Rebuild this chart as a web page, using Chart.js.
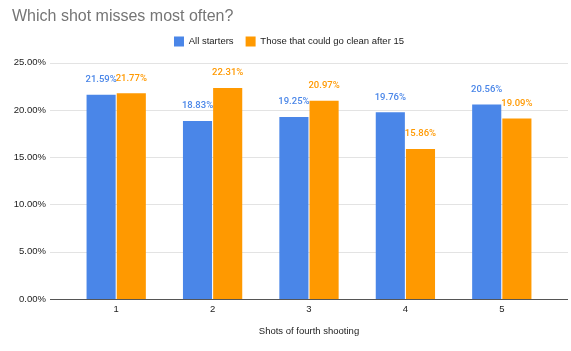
<!DOCTYPE html>
<html>
<head>
<meta charset="utf-8">
<script src="https://cdn.jsdelivr.net/npm/chart.js@4"></script>
<style>
  body { margin: 0; background: #fff; }
  #wrap { width: 571px; height: 351px; }
</style>
</head>
<body>
<div id="wrap"><canvas id="canvas"></canvas></div>
<script>
const shots = ["1", "2", "3", "4", "5"];
const allStarters = [21.59, 18.83, 19.25, 19.76, 20.56];
const cleanAfter15 = [21.77, 22.31, 20.97, 15.86, 19.09];
const yMax = 25;
const yStep = 5;

const blue = "#4a86e8";
const orange = "#ff9900";

// horizontal grid lines reach a bit past the plot area, like the sheets chart
const gridLines = {
  id: "gridLines",
  beforeDatasetsDraw(chart) {
    const { ctx, chartArea, scales } = chart;
    ctx.save();
    ctx.lineWidth = 1;
    scales.y.ticks.forEach(t => {
      if (t.value === 0) return;
      const y = Math.round(scales.y.getPixelForValue(t.value)) + 0.5;
      ctx.strokeStyle = "#e3e3e3";
      ctx.beginPath();
      ctx.moveTo(chartArea.left - 18, y);
      ctx.lineTo(chartArea.right + 18, y);
      ctx.stroke();
    });
    ctx.restore();
  },
  afterDatasetsDraw(chart) {
    const { ctx, chartArea, scales } = chart;
    const y = Math.round(scales.y.getPixelForValue(0)) + 0.5;
    ctx.save();
    ctx.strokeStyle = "#555";
    ctx.beginPath();
    ctx.moveTo(chartArea.left - 18, y);
    ctx.lineTo(chartArea.right + 18, y);
    ctx.stroke();
    ctx.restore();
  }
};

// value labels above each bar
const barLabels = {
  id: "barLabels",
  afterDatasetsDraw(chart) {
    const ctx = chart.ctx;
    ctx.save();
    ctx.font = "500 9.5px Roboto";
    ctx.textAlign = "center";
    ctx.textBaseline = "middle";
    chart.data.datasets.forEach((ds, i) => {
      chart.getDatasetMeta(i).data.forEach((bar, j) => {
        ctx.fillStyle = ds.backgroundColor;
        ctx.fillText(ds.data[j].toFixed(2) + "%", bar.x, bar.y - 15);
      });
    });
    ctx.restore();
  }
};

// a little extra room under the legend, and nudge title / legend sideways
const headerTweaks = {
  id: "headerTweaks",
  beforeInit(chart) {
    const legend = chart.legend;
    const fit = legend.fit;
    legend.fit = function () {
      fit.call(this);
      this.height += 6;
    };
  },
  afterLayout(chart) {
    chart.titleBlock.left += 12;
    chart.titleBlock.right += 12;
    chart.legend.left += 14;
    chart.legend.right += 14;
  }
};

new Chart(document.getElementById("canvas"), {
  type: "bar",
  data: {
    labels: shots,
    datasets: [
      { label: "All starters", data: allStarters, backgroundColor: blue },
      { label: "Those that could go clean after 15", data: cleanAfter15, backgroundColor: orange }
    ]
  },
  options: {
    responsive: true,
    maintainAspectRatio: false,
    animation: false,
    datasets: { bar: { categoryPercentage: 0.626, barPercentage: 0.965 } },
    layout: { padding: { left: 0, right: 21, top: 0, bottom: 0 } },
    plugins: {
      title: {
        display: true,
        text: "Which shot misses most often?",
        align: "start",
        color: "#757575",
        font: { family: "Liberation Sans", size: 16, weight: "normal", lineHeight: 1 },
        padding: { top: 8.6, bottom: 0 }
      },
      legend: {
        labels: {
          boxWidth: 10,
          boxHeight: 10,
          padding: 12,
          color: "#222",
          font: { family: "Liberation Sans", size: 9.5 }
        }
      },
      tooltip: { enabled: false }
    },
    scales: {
      x: {
        grid: { display: false },
        border: { display: false },
        ticks: { color: "#222", padding: -3, font: { family: "Liberation Sans", size: 9.5 } },
        title: {
          display: true,
          text: "Shots of fourth shooting",
          color: "#222",
          font: { family: "Liberation Sans", size: 9.5 },
          padding: { top: 0, bottom: 14 }
        },
        afterFit(scale) { scale.height = 52; }
      },
      y: {
        min: 0,
        max: yMax,
        grid: { display: false, drawTicks: false },
        border: { display: false },
        ticks: {
          stepSize: yStep,
          padding: 22,
          color: "#222",
          font: { family: "Liberation Sans", size: 9.5 },
          callback: v => v.toFixed(2) + "%"
        },
        afterFit(scale) { scale.width = 68; }
      }
    }
  },
  plugins: [gridLines, barLabels, headerTweaks]
});
</script>
</body>
</html>
